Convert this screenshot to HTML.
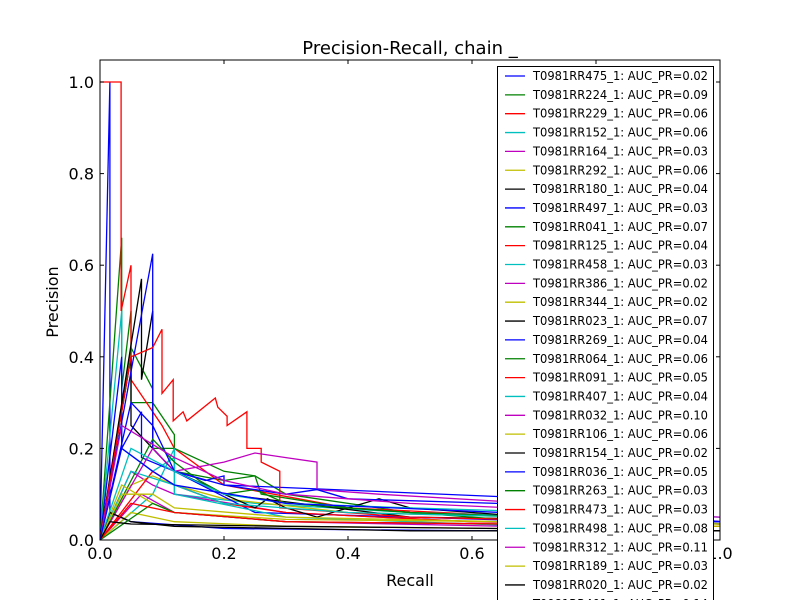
<!DOCTYPE html>
<html><head><meta charset="utf-8"><style>
html,body{margin:0;padding:0;background:#fff;width:800px;height:600px;overflow:hidden}
svg text{font-family:"DejaVu Sans","Liberation Sans",sans-serif}
</style></head><body>
<svg id="chart" width="800" height="600" viewBox="0 0 800 600" xmlns="http://www.w3.org/2000/svg">
<rect x="0" y="0" width="800" height="600" fill="#fff"/>
<text x="410" y="54" font-size="18" text-anchor="middle">Precision-Recall, chain _</text>
<text x="410" y="586" font-size="16" text-anchor="middle">Recall</text>
<text x="58" y="302" font-size="16" text-anchor="middle" transform="rotate(-90 58 302)">Precision</text>
<defs><clipPath id="plotclip"><rect x="100" y="60" width="620" height="480"/></clipPath></defs>
<g id="series" clip-path="url(#plotclip)"></g>
<g id="ticks"></g>
<rect x="100" y="60" width="620" height="480" fill="none" stroke="#000" stroke-width="1"/>
<g id="legend"></g>
</svg>
<script>
const seriesNames = ["T0981RR475_1","T0981RR224_1","T0981RR229_1","T0981RR152_1","T0981RR164_1","T0981RR292_1","T0981RR180_1","T0981RR497_1","T0981RR041_1","T0981RR125_1","T0981RR458_1","T0981RR386_1","T0981RR344_1","T0981RR023_1","T0981RR269_1","T0981RR064_1","T0981RR091_1","T0981RR407_1","T0981RR032_1","T0981RR106_1","T0981RR154_1","T0981RR036_1","T0981RR263_1","T0981RR473_1","T0981RR498_1","T0981RR312_1","T0981RR189_1","T0981RR020_1","T0981RR401_1"];
const aucValues = ["0.02","0.09","0.06","0.06","0.03","0.06","0.04","0.03","0.07","0.04","0.03","0.02","0.02","0.07","0.04","0.06","0.05","0.04","0.10","0.06","0.02","0.05","0.03","0.03","0.08","0.11","0.03","0.02","0.14"];
const colorCycle = ["#0000ff","#008000","#ff0000","#00bfbf","#bf00bf","#bfbf00","#000000"];
const xTicks = [0,0.2,0.4,0.6,0.8,1.0];
const yTicks = [0,0.2,0.4,0.6,0.8,1.0];
const tickLabels = ["0.0","0.2","0.4","0.6","0.8","1.0"];
const curves = [
[[0,0],[0.016,1],[0.016,0.06],[0.05,0.04],[0.2,0.025],[0.6,0.02],[1,0.02]],
[[0,0],[0.035,0.66],[0.035,0.33],[0.05,0.5],[0.05,0.3],[0.085,0.3],[0.12,0.23],[0.12,0.15],[0.2,0.13],[0.25,0.14],[0.3,0.1],[0.5,0.06],[1,0.035]],
[[0,1],[0.034,1],[0.034,0.5],[0.05,0.6],[0.05,0.35],[0.1,0.25],[0.12,0.2],[0.2,0.12],[0.4,0.07],[0.7,0.05],[1,0.04]],
[[0,0],[0.035,0.5],[0.035,0.2],[0.085,0.15],[0.12,0.18],[0.12,0.1],[0.25,0.08],[0.5,0.06],[1,0.04]],
[[0,0],[0.05,0.15],[0.085,0.12],[0.12,0.1],[0.3,0.06],[0.6,0.04],[1,0.03]],
[[0,0],[0.05,0.12],[0.085,0.14],[0.12,0.12],[0.2,0.09],[0.4,0.06],[1,0.04]],
[[0,0],[0.05,0.4],[0.05,0.25],[0.085,0.2],[0.12,0.15],[0.2,0.1],[0.5,0.05],[1,0.04]],
[[0,0],[0.035,0.4],[0.035,0.2],[0.067,0.28],[0.067,0.18],[0.12,0.15],[0.25,0.06],[1,0.03]],
[[0,0],[0.05,0.42],[0.085,0.33],[0.085,0.2],[0.12,0.2],[0.2,0.15],[0.25,0.14],[0.26,0.1],[0.4,0.07],[0.7,0.04],[1,0.035]],
[[0,0],[0.085,0.15],[0.12,0.12],[0.2,0.08],[0.3,0.06],[0.6,0.04],[1,0.035]],
[[0,0],[0.085,0.1],[0.12,0.2],[0.12,0.1],[0.3,0.05],[0.7,0.03],[1,0.03]],
[[0,0],[0.067,0.1],[0.12,0.06],[0.3,0.04],[1,0.02]],
[[0,0],[0.05,0.06],[0.12,0.04],[0.3,0.03],[1,0.02]],
[[0,0],[0.067,0.57],[0.067,0.35],[0.085,0.5],[0.085,0.2],[0.12,0.15],[0.17,0.12],[0.2,0.1],[0.25,0.07],[0.27,0.09],[0.3,0.07],[0.35,0.05],[0.45,0.09],[0.5,0.07],[0.7,0.05],[1,0.04]],
[[0,0],[0.085,0.625],[0.085,0.2],[0.12,0.15],[0.17,0.13],[0.2,0.14],[0.2,0.12],[0.64,0.095],[1,0.04]],
[[0,0],[0.085,0.22],[0.12,0.17],[0.16,0.13],[0.2,0.1],[0.25,0.11],[0.3,0.08],[0.5,0.06],[1,0.035]],
[[0,0],[0.05,0.4],[0.085,0.42],[0.1,0.46],[0.1,0.32],[0.118,0.35],[0.118,0.26],[0.134,0.28],[0.14,0.26],[0.186,0.31],[0.19,0.29],[0.205,0.27],[0.205,0.25],[0.237,0.28],[0.237,0.2],[0.26,0.2],[0.26,0.17],[0.29,0.15],[0.29,0.07],[0.5,0.05],[1,0.035]],
[[0,0],[0.05,0.15],[0.12,0.12],[0.2,0.08],[0.4,0.06],[0.7,0.05],[1,0.035]],
[[0,0],[0.085,0.2],[0.12,0.15],[0.2,0.17],[0.25,0.19],[0.3,0.18],[0.35,0.17],[0.35,0.11],[0.45,0.1],[0.64,0.085],[1,0.04]],
[[0,0],[0.035,0.12],[0.085,0.08],[0.12,0.06],[0.3,0.045],[1,0.035]],
[[0,0],[0.016,0.06],[0.05,0.04],[0.12,0.03],[0.5,0.02],[1,0.02]],
[[0,0],[0.05,0.3],[0.085,0.25],[0.12,0.15],[0.2,0.12],[0.3,0.1],[0.35,0.11],[0.4,0.09],[0.64,0.08],[1,0.04]],
[[0,0],[0.085,0.08],[0.12,0.06],[0.3,0.04],[1,0.03]],
[[0,0],[0.05,0.08],[0.12,0.06],[0.3,0.04],[1,0.03]],
[[0,0],[0.05,0.2],[0.12,0.15],[0.2,0.1],[0.3,0.08],[0.5,0.07],[1,0.05]],
[[0,0],[0.035,0.25],[0.12,0.18],[0.2,0.13],[0.3,0.1],[0.5,0.08],[1,0.05]],
[[0,0],[0.035,0.1],[0.085,0.1],[0.12,0.07],[0.3,0.05],[1,0.03]],
[[0,0],[0.016,0.04],[0.05,0.035],[0.3,0.03],[1,0.02]],
[[0,0],[0.035,0.2],[0.085,0.15],[0.12,0.12],[0.3,0.08],[1,0.04]]
];
const NS = "http://www.w3.org/2000/svg";
function xScale(r){ return 100 + r*620; }
function yScale(p){ return 540 - p*458; }
const sg = document.getElementById('series');
curves.forEach((c,i)=>{
  const pl = document.createElementNS(NS,'polyline');
  pl.setAttribute('points', c.map(d=>xScale(d[0]).toFixed(1)+','+yScale(d[1]).toFixed(1)).join(' '));
  pl.setAttribute('fill','none');
  pl.setAttribute('stroke', colorCycle[i%7]);
  pl.setAttribute('stroke-width','1.3');
  
  
  sg.appendChild(pl);
});
const tg = document.getElementById('ticks');
xTicks.forEach((t,i)=>{
  const x = xScale(t);
  [[540,536],[60,64]].forEach(([a,b])=>{
    const l = document.createElementNS(NS,'line');
    l.setAttribute('x1',x);l.setAttribute('x2',x);l.setAttribute('y1',a);l.setAttribute('y2',b);
    l.setAttribute('stroke','#000');
    
    
    tg.appendChild(l);
  });
  const tx = document.createElementNS(NS,'text');
  tx.setAttribute('x',x);tx.setAttribute('y',559);tx.setAttribute('font-size','16');tx.setAttribute('text-anchor','middle');
  tx.textContent = tickLabels[i];
  
  
  tg.appendChild(tx);
});
yTicks.forEach((t,i)=>{
  const y = yScale(t);
  [[100,104],[720,716]].forEach(([a,b])=>{
    const l = document.createElementNS(NS,'line');
    l.setAttribute('x1',a);l.setAttribute('x2',b);l.setAttribute('y1',y);l.setAttribute('y2',y);
    l.setAttribute('stroke','#000');
    
    
    tg.appendChild(l);
  });
  const tx = document.createElementNS(NS,'text');
  tx.setAttribute('x',94);tx.setAttribute('y',y+6);tx.setAttribute('font-size','16');tx.setAttribute('text-anchor','end');
  tx.textContent = tickLabels[i];
  
  
  tg.appendChild(tx);
});
const lg = document.getElementById('legend');
const box = document.createElementNS(NS,'rect');
box.setAttribute('x',497.5);box.setAttribute('y',66.5);box.setAttribute('width',216);box.setAttribute('height',560);
box.setAttribute('fill','#fff');box.setAttribute('stroke','#000');


lg.appendChild(box);
seriesNames.forEach((n,i)=>{
  const y = 76 + i*18.85;
  const g = document.createElementNS(NS,'g');
  
  
  const l = document.createElementNS(NS,'line');
  l.setAttribute('x1',505);l.setAttribute('x2',525);l.setAttribute('y1',y);l.setAttribute('y2',y);
  l.setAttribute('stroke',colorCycle[i%7]);
  l.setAttribute('stroke-width','1.3');
  
  
  g.appendChild(l);
  const tx = document.createElementNS(NS,'text');
  tx.setAttribute('x',533);tx.setAttribute('y',y+4);tx.setAttribute('font-size','12');
  tx.setAttribute('textLength','175');tx.setAttribute('lengthAdjust','spacingAndGlyphs');
  tx.textContent = n + ': AUC_PR=' + aucValues[i];
  
  
  g.appendChild(tx);
  lg.appendChild(g);
});
</script>
</body></html>
